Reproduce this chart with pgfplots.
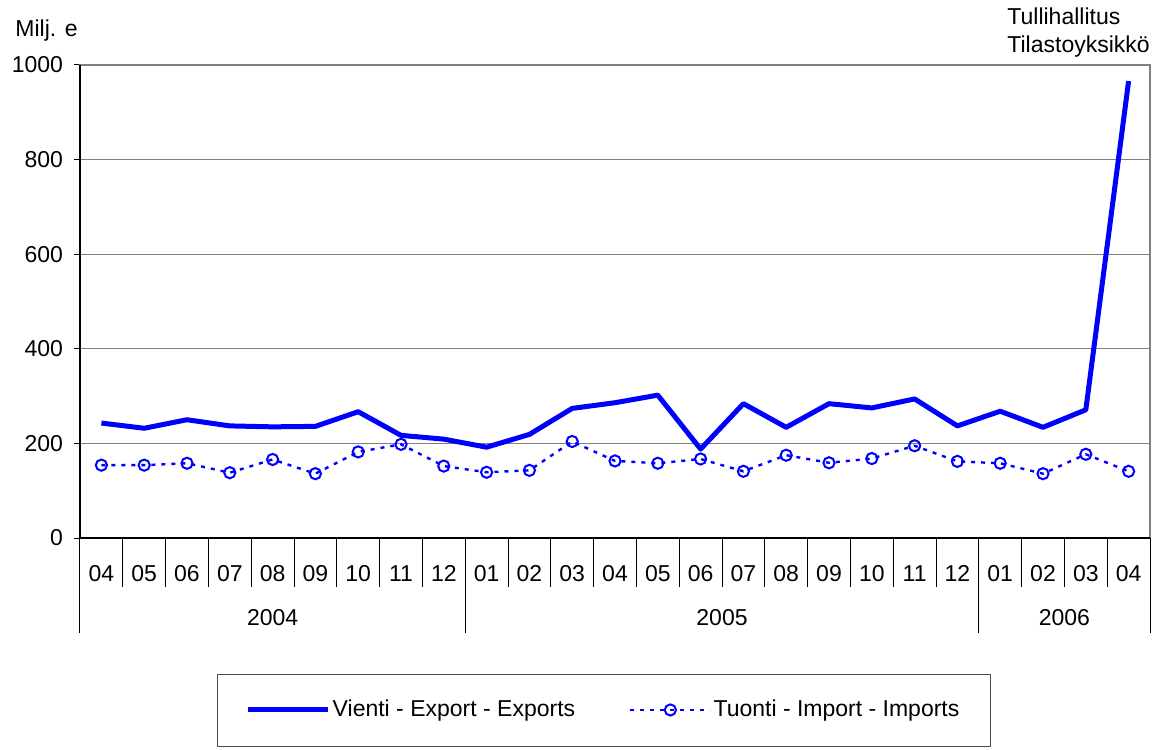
\documentclass[border=0pt]{standalone}
\usepackage{fontspec}
\setmainfont{Liberation Sans}
\usepackage{pgfplots}
\usepackage{pgfplotstable}
\pgfplotsset{compat=1.18}
\definecolor{vblue}{RGB}{0,0,255}
\pgfplotstableread{
idx exp imp
0 243 154
1 232 154
2 250 158
3 237 138
4 235 166
5 236 136
6 267 182
7 217 198
8 209 152
9 192 139
10 219 143
11 274 204
12 286 163
13 302 158
14 188 167
15 284 141
16 234 175
17 284 159
18 275 168
19 294 195
20 237 162
21 268 158
22 234 136
23 271 177
24 966 141
}\datatab
\begin{document}
\begin{tikzpicture}[font=\fontsize{11.5}{14}\selectfont]
\useasboundingbox (0,0) rectangle (580pt,374.5pt);
\begin{axis}[
  at={(40pt,105.5pt)}, anchor=south west,
  scale only axis, width=535pt, height=236.5pt,
  xmin=-0.5, xmax=24.5, ymin=0, ymax=1000,
  xtick={0,...,24},
  xticklabels={04,05,06,07,08,09,10,11,12,01,02,03,04,05,06,07,08,09,10,11,12,01,02,03,04},
  xtick style={draw=none},
  xticklabel style={anchor=base, yshift=-18.5pt},
  ytick={0,200,...,1000},
  yticklabel style={xshift=-2pt},
  ytick pos=left,
  tick align=outside,
  major tick length=3pt,
  ytick style={black, line width=0.5pt},
  /pgf/number format/assume math mode=true,
  /pgf/number format/1000 sep={},
  ticklabel style={font=\fontsize{11.5}{14}\selectfont},
  ymajorgrids, grid style={gray, line width=0.5pt},
  axis line style={gray, line width=0.6pt},
  clip=false,
  legend columns=2,
  legend style={draw=none, fill=none, at={(0.4893,-0.3636)}, anchor=center,
    font=\fontsize{11.5}{14}\selectfont,
    nodes={inner sep=1pt},
    /tikz/every even column/.append style={column sep=26pt}},
  legend cell align=left,
  legend image code/.code={\draw[mark repeat=2,mark phase=2,#1] plot coordinates {(0pt,0pt) (20pt,0pt) (40pt,0pt)};},
]
\addplot[vblue, line width=2.5pt, line join=round] table[x=idx, y=exp] {\datatab};
\addlegendentry{Vienti - Export - Exports}
\addplot[vblue, line width=1.2pt, dash pattern=on 2pt off 3pt, mark=o, mark size=2.8pt,
  mark options={solid, fill=white, line width=1pt}] table[x=idx, y=imp] {\datatab};
\addlegendentry{Tuonti - Import - Imports}
\draw[black, line width=0.6pt] (rel axis cs:0,1) -- (rel axis cs:0,0) -- (rel axis cs:1,0);
\pgfplotsinvokeforeach{0.5,1.5,...,23.5}{\draw[black, line width=0.5pt] (axis cs:#1,0) -- ([yshift=-24.5pt]axis cs:#1,0);}
\draw[black, line width=0.5pt] (axis cs:-0.5,0) -- ([yshift=-47.5pt]axis cs:-0.5,0);
\draw[black, line width=0.5pt] (axis cs:8.5,0) -- ([yshift=-47.5pt]axis cs:8.5,0);
\draw[black, line width=0.5pt] (axis cs:20.5,0) -- ([yshift=-47.5pt]axis cs:20.5,0);
\draw[black, line width=0.5pt] (axis cs:24.5,0) -- ([yshift=-47.5pt]axis cs:24.5,0);
\node at (axis cs:4,0) [yshift=-40pt] {2004};
\node at (axis cs:14.5,0) [yshift=-40pt] {2005};
\node at (axis cs:22.5,0) [yshift=-40pt] {2006};
\node[anchor=base east, inner sep=0pt] at (rel axis cs:0,1) [xshift=-1pt, yshift=14pt] {Milj. e};
\node[anchor=base west, inner sep=0pt] at (rel axis cs:1,1) [xshift=-71.5pt, yshift=20pt] {Tullihallitus};
\node[anchor=base west, inner sep=0pt] at (rel axis cs:1,1) [xshift=-71.5pt, yshift=6pt] {Tilastoyksikkö};
\end{axis}
\draw[gray!60!black, line width=0.5pt] (108.5pt,1.5pt) rectangle (495pt,37.5pt);
\end{tikzpicture}
\end{document}
